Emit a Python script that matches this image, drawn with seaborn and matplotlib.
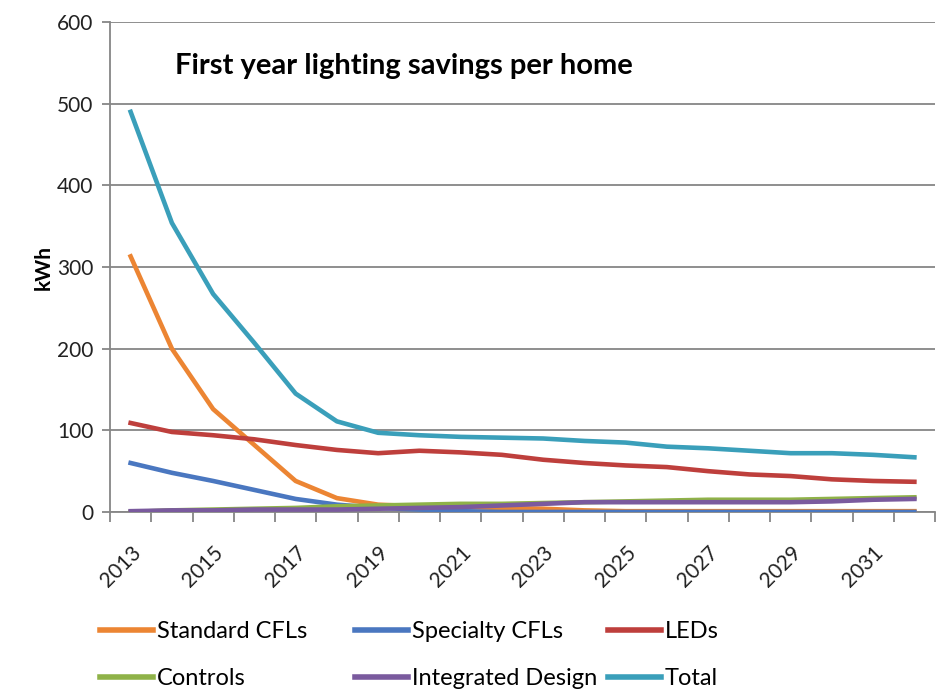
import matplotlib
matplotlib.use("Agg")
import matplotlib.pyplot as plt
import seaborn as sns
import numpy as np
import pandas as pd
from matplotlib.lines import Line2D

years = list(range(2013, 2033))
standard_cfls = [313, 200, 126, 82, 38, 17, 9, 7, 6, 5, 4, 2, 1, 1, 1, 1, 1, 1, 1, 1]
specialty_cfls = [60, 48, 38, 27, 16, 9, 5, 3, 1, 0, 0, 0, 0, 0, 0, 0, 0, 0, 0, 0]
leds = [109, 98, 94, 89, 82, 76, 72, 75, 73, 70, 64, 60, 57, 55, 50, 46, 44, 40, 38, 37]
controls = [0, 2, 3, 4, 5, 7, 8, 9, 10, 10, 11, 12, 13, 14, 15, 15, 15, 16, 17, 18]
integrated = [1, 2, 2, 3, 3, 3, 4, 5, 6, 8, 10, 12, 12, 12, 12, 12, 12, 13, 15, 16]
total = [490, 354, 267, 207, 145, 111, 97, 94, 92, 91, 90, 87, 85, 80, 78, 75, 72, 72, 70, 67]

series_names = ["Standard CFLs", "Specialty CFLs", "LEDs", "Controls", "Integrated Design", "Total"]
series_values = [standard_cfls, specialty_cfls, leds, controls, integrated, total]
colors = ["#EC8533", "#4A77C0", "#BE3F3C", "#8FB248", "#7A5A9E", "#3A9FBA"]

df = pd.concat([
    pd.DataFrame({"idx": np.arange(len(years)), "kWh": vals, "series": name})
    for name, vals in zip(series_names, series_values)
])

plt.rcParams["font.family"] = ["Lato", "DejaVu Sans"]
fig = plt.figure(figsize=(9.37, 6.9), dpi=100)
ax = fig.add_axes([110 / 937, 1 - 512 / 690, 825 / 937, 490 / 690])

sns.lineplot(data=df, x="idx", y="kWh", hue="series", hue_order=series_names,
             palette=dict(zip(series_names, colors)), linewidth=3.3,
             legend=False, ax=ax, zorder=3)

ax.set_xlim(-0.5, len(years) - 0.5)
ax.set_ylim(0, 600)
ax.set_yticks(range(0, 601, 100))
ax.tick_params(axis="y", labelsize=15, length=6, color="#868686", width=1.3, pad=6,
               labelcolor="#222222")
ax.grid(axis="y", color="#868686", linewidth=1.3, zorder=0)
ax.grid(axis="x", visible=False)
ax.set_axisbelow(True)

# Excel-style category axis: tick marks between categories, labels every other year
ax.set_xticks(np.arange(-0.5, len(years), 1.0), minor=True)
ax.set_xticks(np.arange(0, len(years), 2))
ax.set_xticklabels([str(y) for y in years[::2]], rotation=45, ha="right",
                   rotation_mode="anchor", fontsize=15, color="#222222")
ax.tick_params(axis="x", which="major", length=0, pad=22)
ax.tick_params(axis="x", which="minor", length=7, color="#868686", width=1.3)

for side in ["top", "right"]:
    ax.spines[side].set_visible(False)
for side in ["left", "bottom"]:
    ax.spines[side].set_color("#868686")
    ax.spines[side].set_linewidth(1.3)

ax.set_xlabel("")
ax.set_ylabel("kWh", fontsize=15, fontweight="bold", labelpad=2)
ax.text(0.079, 0.91, "First year lighting savings per home", transform=ax.transAxes,
        fontsize=21, fontweight="bold", ha="left", va="center")

# legend: three equal-width columns like Excel, two rows each
col_x = [100, 355, 608]
for c in range(3):
    idxs = [c, c + 3]
    handles = [Line2D([], [], color=colors[i], linewidth=4) for i in idxs]
    labels = [series_names[i] for i in idxs]
    fig.legend(handles, labels, loc="upper left", bbox_to_anchor=(col_x[c] / 937, 1 - 621 / 690),
               frameon=False, fontsize=17, handlelength=2.25, handletextpad=0.15,
               labelspacing=1.1, borderpad=0, borderaxespad=0)

fig.savefig("out.png", dpi=100)
